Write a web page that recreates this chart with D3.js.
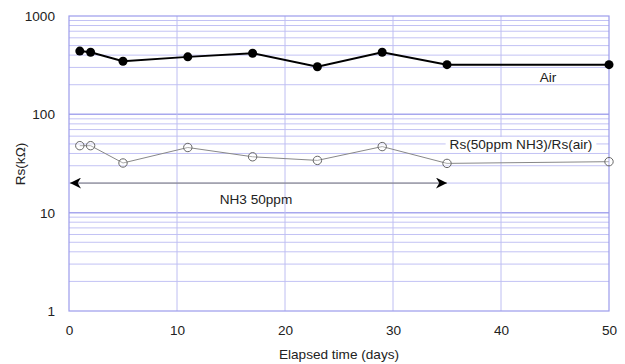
<!DOCTYPE html>
<html><head><meta charset="utf-8">
<script src="https://cdn.jsdelivr.net/npm/d3@7"></script>
<style>body{margin:0;background:#fff}svg{display:block}text{font-family:"Liberation Sans",Arial,sans-serif;fill:#222}</style>
</head><body><svg id="c" width="625" height="364"></svg>
<script>
const days = [1, 2, 5, 11, 17, 23, 29, 35, 50];
const airValues = [440, 428, 347, 384, 418, 305, 428, 320, 320];
const ratioValues = [48, 48, 32, 46, 37, 34, 47, 31.7, 33];
const xTicks = [0, 10, 20, 30, 40, 50];
const yTicks = [1, 10, 100, 1000];
const arrowRange = [0, 35];
const arrowLevel = 20;

const FS = 13.6;
const svg = d3.select("#c");
const m = {l: 69, r: 16, t: 16, b: 53};
const W = 625, H = 364;
const x = d3.scaleLinear().domain([0, 50]).range([m.l, W - m.r]);
const y = d3.scaleLog().domain([1, 1000]).range([H - m.b, m.t]);

const grid = svg.append("g");
const minor = [];
for (let d = 1; d < 1000; d *= 10) for (let k = 2; k <= 9; k++) minor.push(d * k);
grid.selectAll("line.mh").data(minor).join("line")
  .attr("x1", x(0)).attr("x2", x(50)).attr("y1", d => y(d)).attr("y2", d => y(d))
  .attr("stroke", "#c2c2f4").attr("stroke-width", 1);
grid.selectAll("line.Mh").data([10, 100]).join("line")
  .attr("x1", x(0)).attr("x2", x(50)).attr("y1", d => y(d)).attr("y2", d => y(d))
  .attr("stroke", "#a8a8ee").attr("stroke-width", 1.5);
grid.selectAll("line.v").data([10, 20, 30, 40]).join("line")
  .attr("y1", y(1)).attr("y2", y(1000)).attr("x1", d => x(d)).attr("x2", d => x(d))
  .attr("stroke", "#bebef2").attr("stroke-width", 1);
svg.append("rect").attr("x", x(0)).attr("y", y(1000)).attr("width", x(50) - x(0)).attr("height", y(1) - y(1000))
  .attr("fill", "none").attr("stroke", "#9c9cec").attr("stroke-width", 1.2);

const xAxis = d3.axisBottom(x).tickValues(xTicks).tickSize(0).tickPadding(14).tickFormat(d3.format("d"));
const gx = svg.append("g").attr("transform", `translate(0,${y(1)})`).call(xAxis);
gx.select(".domain").remove();
gx.selectAll("text").attr("font-size", FS).attr("fill", "#222").style("font-family", "Liberation Sans, Arial, sans-serif");
const yAxis = d3.axisLeft(y).tickValues(yTicks).tickSize(0).tickPadding(14).tickFormat(d3.format("d"));
const gy = svg.append("g").attr("transform", `translate(${x(0)},0)`).call(yAxis);
gy.select(".domain").remove();
gy.selectAll("text").attr("font-size", FS).attr("fill", "#222").style("font-family", "Liberation Sans, Arial, sans-serif");

svg.append("text").attr("x", (x(0) + x(50)) / 2).attr("y", 359).attr("text-anchor", "middle")
  .attr("font-size", FS).text("Elapsed time (days)");
svg.append("text").attr("transform", "translate(25,164) rotate(-90)").attr("text-anchor", "middle")
  .attr("font-size", FS).text("Rs(kΩ)");

const defs = svg.append("defs");
defs.append("marker").attr("id", "ah").attr("viewBox", "0 0 10 10").attr("refX", 10).attr("refY", 5)
  .attr("markerWidth", 18).attr("markerHeight", 11).attr("markerUnits", "userSpaceOnUse").attr("orient", "auto-start-reverse")
  .append("path").attr("d", "M0,0 L10,5 L0,10 L3,5 Z").attr("fill", "#000");
svg.append("line").attr("x1", x(arrowRange[0]) + 1).attr("x2", x(arrowRange[1])).attr("y1", y(arrowLevel)).attr("y2", y(arrowLevel))
  .attr("stroke", "#777").attr("stroke-width", 1).attr("marker-start", "url(#ah)").attr("marker-end", "url(#ah)");
svg.append("text").attr("x", 256).attr("y", 204).attr("text-anchor", "middle").attr("font-size", FS).text("NH3 50ppm");

const data2 = days.map((d, i) => [d, ratioValues[i]]);
const line = d3.line().x(d => x(d[0])).y(d => y(d[1]));
svg.append("path").datum(data2).attr("d", line).attr("fill", "none").attr("stroke", "#888").attr("stroke-width", 1);
svg.selectAll("circle.r").data(data2).join("circle").attr("cx", d => x(d[0])).attr("cy", d => y(d[1])).attr("r", 4.2)
  .attr("fill", "#fff").attr("fill-opacity", 0.3).attr("stroke", "#666").attr("stroke-width", 1);

const data1 = days.map((d, i) => [d, airValues[i]]);
svg.append("path").datum(data1).attr("d", line).attr("fill", "none").attr("stroke", "#000").attr("stroke-width", 2);
svg.selectAll("circle.a").data(data1).join("circle").attr("cx", d => x(d[0])).attr("cy", d => y(d[1])).attr("r", 4.5)
  .attr("fill", "#000");

svg.append("text").attr("x", 548).attr("y", 82).attr("text-anchor", "middle").attr("font-size", FS).text("Air");
const lbl = svg.append("g");
const t2 = lbl.append("text").attr("x", 521).attr("y", 149).attr("text-anchor", "middle").attr("font-size", FS).text("Rs(50ppm NH3)/Rs(air)");
const bb = t2.node().getBBox();
lbl.insert("rect", "text").attr("x", bb.x - 4).attr("y", bb.y).attr("width", bb.width + 8).attr("height", bb.height).attr("fill", "#fff");
</script></body></html>
